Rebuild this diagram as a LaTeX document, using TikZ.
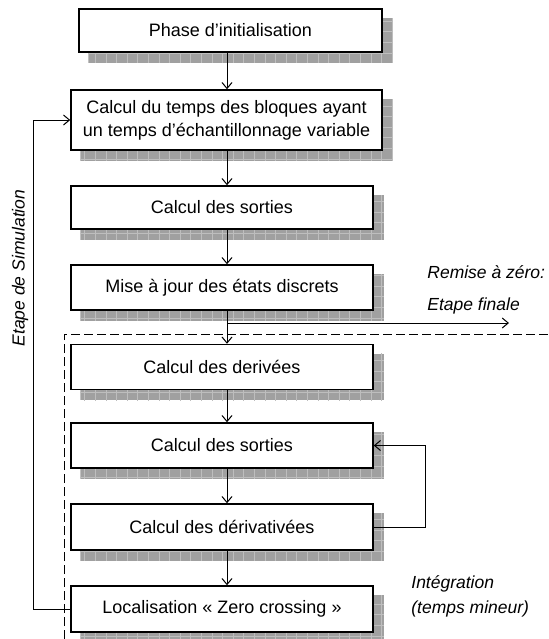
\documentclass[tikz,border=0pt]{standalone}
\usepackage{fontspec}
\setmainfont{Liberation Sans}
\usetikzlibrary{arrows.meta,backgrounds,calc}

% grey hatched drop shadow behind a named box
\newcommand{\gridshadow}[1]{%
  \begin{scope}
    \path let \p1 = (#1.north west), \p2 = (#1.south east) in
      coordinate (#1-sa) at (\x1+5pt,\y1-5pt)
      coordinate (#1-sb) at (\x2+5pt,\y2-5pt);
    \clip (#1-sa) rectangle (#1-sb);
    \fill[shadowfill] (#1-sa) rectangle (#1-sb);
    \draw[shadowgrid] ($(#1-sa)+(-12,-12)$) grid ($(#1-sb)+(12,12)$);
  \end{scope}}

\definecolor{shadowgrey}{RGB}{160,160,160}
\definecolor{gridgrey}{RGB}{190,190,190}

\tikzset{
  stepbox/.style={draw=black, line width=0.75pt, fill=white, inner sep=0pt,
    minimum width=151pt, minimum height=22.5pt,
    font=\fontsize{9pt}{11.5pt}\selectfont, align=center},
  shadowfill/.style={fill=shadowgrey},
  shadowgrid/.style={draw=gridgrey, line width=0.4pt, step=5.3pt},
  flow/.style={line width=0.5pt, -{Straight Barb[length=3pt,width=5pt]}},
  plain/.style={line width=0.5pt},
  note/.style={font=\fontsize{8.75pt}{10.5pt}\selectfont\itshape, inner sep=0pt},
}

\begin{document}
\begin{tikzpicture}[x=0.5pt, y=-0.5pt]
  \useasboundingbox (0,0) rectangle (549,639);

  % boxes of the flow
  \node[stepbox, minimum width=151.5pt, minimum height=21.5pt] (b1) at (230.5,30.5) {Phase d’initialisation};
  \node[stepbox, minimum width=155.5pt, minimum height=30pt] (b2) at (226.5,120) {Calcul du temps des bloques ayant\\un temps d’échantillonnage variable};
  \node[stepbox, minimum height=21.5pt] (b3) at (222,207.5) {Calcul des sorties};
  \node[stepbox] (b4) at (222,287.5) {Mise à jour des états discrets};
  \node[stepbox] (b5) at (222,367) {Calcul des derivées};
  \node[stepbox] (b6) at (222,445.5) {Calcul des sorties};
  \node[stepbox, minimum height=23pt] (b7) at (222,527) {Calcul des dérivativées};
  \node[stepbox, minimum height=23pt] (b8) at (222,609) {Localisation « Zero crossing »};

  \begin{scope}[on background layer]
    \gridshadow{b1}\gridshadow{b2}\gridshadow{b3}\gridshadow{b4}
    \gridshadow{b5}\gridshadow{b6}\gridshadow{b7}\gridshadow{b8}
  \end{scope}

  % side labels
  \node[note, anchor=west] (reset) at (427,272) {Remise à zéro:};
  \node[note, anchor=west] (final) at (427,306) {Etape finale};
  \node[note, anchor=west] (integ) at (411,584) {Intégration};
  \node[note, anchor=west] (minor) at (411,609) {(temps mineur)};
  \node[note, rotate=90] (sim) at (20,268) {Etape de Simulation};

  % main vertical flow
  \coordinate (ax) at (227,0);
  \draw[flow] (b1.south -| ax) -- (b2.north -| ax);
  \draw[flow] (b2.south -| ax) -- (b3.north -| ax);
  \draw[flow] (b3.south -| ax) -- (b4.north -| ax);
  \draw[flow] (b4.south -| ax) -- (b5.north -| ax);
  \draw[flow] (b5.south -| ax) -- (b6.north -| ax);
  \draw[flow] (b6.south -| ax) -- (b7.north -| ax);
  \draw[flow] (b7.south -| ax) -- (b8.north -| ax);

  % exit towards the final step
  \coordinate (branch) at (227,323);
  \coordinate (finend) at (509,323);
  \draw[flow] (branch) -- (finend);

  % minor-step loop
  \draw[flow] (b7.east) -- ++(52,0) |- (b6.east);

  % simulation loop
  \draw[flow] (b8.west) -- ++(-37,0) |- (b2.west);

  % integration region
  \coordinate (dl) at (64,639);
  \coordinate (dc) at (64,334);
  \coordinate (dr) at (549,334);
  \draw[plain, dashed, dash pattern=on 4.5pt off 2pt] (dl) -- (dc) -- (dr);
\end{tikzpicture}
\end{document}
